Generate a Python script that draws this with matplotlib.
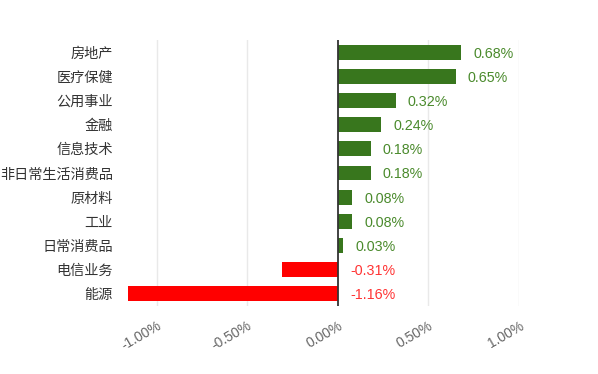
import numpy as np
import matplotlib
matplotlib.use('Agg')
import matplotlib.pyplot as plt

plt.rcParams['font.family'] = ['Liberation Sans', 'Noto Sans CJK SC', 'DejaVu Sans']

# 行业涨跌幅（%），从上到下
sectors = ['房地产', '医疗保健', '公用事业', '金融', '信息技术', '非日常生活消费品',
           '原材料', '工业', '日常消费品', '电信业务', '能源']
changes = [0.68, 0.65, 0.32, 0.24, 0.18, 0.18, 0.08, 0.08, 0.03, -0.31, -1.16]
xticks = [-1.0, -0.5, 0.0, 0.5, 1.0]

green = '#38761d'
red = '#ff0000'

fig = plt.figure(figsize=(5.98, 3.74), dpi=100)
ax = fig.add_axes([128 / 598, 1 - 306 / 374, (519 - 128) / 598, (306 - 40) / 374])

y = np.arange(len(sectors))
colors = [green if v >= 0 else red for v in changes]
ax.barh(y, changes, height=0.62, color=colors, zorder=2)

ax.set_ylim(len(sectors) - 0.5, -0.5)
ax.set_xlim(min(changes), 1.0)
ax.set_yticks(y)
ax.set_yticklabels(sectors, fontsize=10.2, color='#333333')
ax.set_xticks(xticks)
ax.set_xticklabels(['%.2f%%' % t for t in xticks], fontsize=10, color='#666666',
                   rotation=30, ha='right', va='top', rotation_mode='anchor')
ax.tick_params(axis='y', length=0, pad=11)
ax.tick_params(axis='x', length=0, pad=9)

for s in ax.spines.values():
    s.set_visible(False)

# 网格线和零轴
for t in xticks:
    if t != 0:
        ax.axvline(t, color='#e9e9e9', lw=1, zorder=0)
ax.axvline(0, color='#333333', lw=1.3, zorder=3)

# 数值标签
for i, v in enumerate(changes):
    c = '#4a8a2c' if v >= 0 else '#ff3333'
    ax.annotate('%.2f%%' % v, xy=(max(v, 0), i), xytext=(8.6, 0),
                textcoords='offset points', ha='left', va='center_baseline',
                fontsize=10.3, color=c)

fig.savefig('out.png', dpi=100)
